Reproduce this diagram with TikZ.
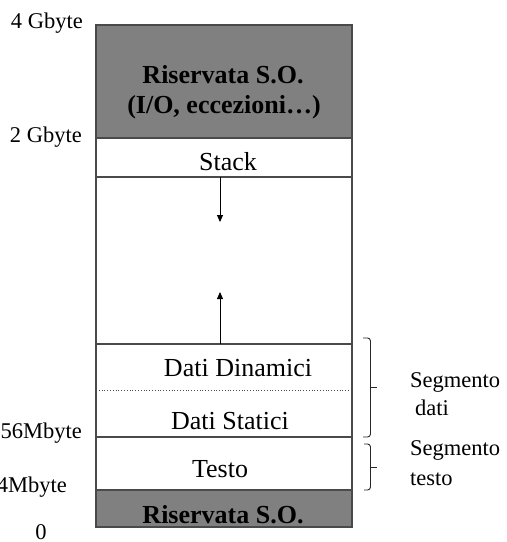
\documentclass[tikz,border=0pt]{standalone}
\usepackage{fontspec}
\setmainfont{Liberation Serif}
\usetikzlibrary{arrows.meta}
\definecolor{osgray}{HTML}{808080}
\definecolor{edge}{HTML}{4A4A4A}
\tikzset{
  segbox/.style={draw=edge, line width=1.1pt, minimum width=256pt, inner sep=0pt, outer sep=0pt},
  osseg/.style={segbox, fill=osgray},
  intxt/.style={inner sep=0pt, font=\fontsize{26}{30}\selectfont},
  boldtxt/.style={intxt, font=\fontsize{26}{30}\selectfont\bfseries},
  lbl/.style={inner sep=0pt, font=\fontsize{22.5}{26}\selectfont},
  growarrow/.style={draw=black, line width=0.9pt, -{Triangle[length=7pt,width=6pt]}},
  bracepath/.style={draw=black!85, line width=0.9pt, rounded corners=3pt}
}
\begin{document}
\begin{tikzpicture}[x=1pt,y=-1pt]
\useasboundingbox (0,0) rectangle (507,542);
% segments
\node[osseg, minimum height=113pt] (osTop) at (224,81.5) {};
\node[segbox, minimum height=39pt] (stack) at (224,157.5) {};
\node[segbox, minimum height=167pt] (free) at (224,260.5) {};
\node[segbox, minimum height=93pt] (data) at (224,390.5) {};
\node[segbox, minimum height=53pt] (text) at (224,463.5) {};
\node[osseg, minimum height=37pt] (osBot) at (224,508.5) {};
\draw[edge, line width=0.8pt, dotted] (data.west) -- (data.east);
% texts
\node[boldtxt, anchor=base] (t1) at (223,83) {Riservata S.O.};
\node[boldtxt, anchor=base] (t2) at (224,113) {(I/O, eccezioni…)};
\node[intxt, anchor=base] (tstack) at (228,170) {Stack};
\node[intxt, anchor=base] (tdyn) at (238,376) {Dati Dinamici};
\node[intxt, anchor=base] (tstat) at (230,429) {Dati Statici};
\node[intxt, anchor=base] (ttesto) at (220,477) {Testo};
\node[boldtxt, anchor=base] (tbot) at (223,523) {Riservata S.O.};
% arrows
\coordinate (s0) at (220,177);
\coordinate (s1) at (220,222);
\coordinate (h0) at (220,344);
\coordinate (h1) at (220,292);
\draw[growarrow] (s0) -- (s1);
\draw[growarrow] (h0) -- (h1);
% left labels
\node[lbl, anchor=base east] (l4g) at (83,28) {4 Gbyte};
\node[lbl, anchor=base east] (l2g) at (82,142) {2 Gbyte};
\node[lbl, anchor=base east] (l256) at (82,438) {256Mbyte};
\node[lbl, anchor=base east] (l64) at (67,492) {64Mbyte};
\node[lbl, anchor=base] (l0) at (41,539) {0};
% braces
\coordinate (b1top) at (363,338);
\coordinate (b1bot) at (363,437);
\coordinate (b1mid) at (377,387);
\draw[bracepath] (b1top) -- (370.5,338) -- (370.5,437) -- (b1bot);
\draw[bracepath] (370.5,387) -- (b1mid);
\coordinate (b2top) at (364,444);
\coordinate (b2bot) at (364,490);
\coordinate (b2mid) at (377,467);
\draw[bracepath] (b2top) -- (370.5,444) -- (370.5,490) -- (b2bot);
\draw[bracepath] (370.5,467) -- (b2mid);
% right labels
\node[lbl, anchor=base west] (r1) at (410,387) {Segmento};
\node[lbl, anchor=base west] (r2) at (415,415) {dati};
\node[lbl, anchor=base west] (r3) at (410,455) {Segmento};
\node[lbl, anchor=base west] (r4) at (410,485) {testo};
\end{tikzpicture}
\end{document}
